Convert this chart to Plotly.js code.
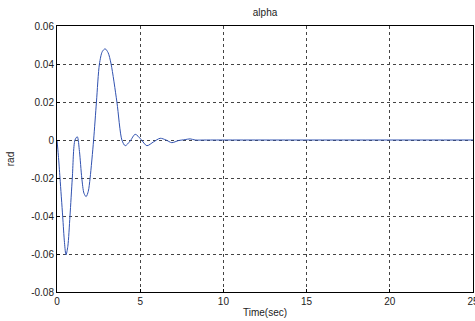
<!DOCTYPE html>
<html><head><meta charset="utf-8">
<script src="https://cdn.plot.ly/plotly-3.0.1.min.js"></script>
<style>html,body{margin:0;padding:0;background:#fff}#c{width:475px;height:321px}</style>
</head><body><div id="c"></div>
<script>
const timeSec = [0, 0.08, 0.18, 0.34, 0.45, 0.54, 0.65, 0.78, 0.92, 1.08, 1.22, 1.35, 1.49, 1.62, 1.75, 1.88, 1.99, 2.2, 2.37, 2.55, 2.72, 2.89, 3.07, 3.25, 3.6, 3.9, 4.1, 4.4, 4.7, 5.05, 5.4, 5.8, 6.2, 6.55, 6.9, 7.3, 7.7, 8.0, 8.3, 9, 25];
const alphaRad = [0, -0.008, -0.02, -0.04, -0.054, -0.0605, -0.056, -0.04, -0.02, 0, 0.0017, -0.006, -0.02, -0.028, -0.0298, -0.027, -0.02, 0, 0.02, 0.04, 0.0465, 0.048, 0.046, 0.04, 0.02, 0, -0.003, -0.0005, 0.003, 0.0003, -0.003, -0.001, 0.0009, 0.0, -0.0014, -0.0003, 0.0002, 0.0006, 0, 0, 0];
const xTicks = [0, 5, 10, 15, 20, 25];
const yTicks = [-0.08, -0.06, -0.04, -0.02, 0, 0.02, 0.04, 0.06];
const yTickText = ['-0.08', '-0.06', '-0.04', '-0.02', '0', '0.02', '0.04', '0.06'];

const font = {family: 'Liberation Sans, Arial, sans-serif', size: 10, color: '#222'};
const axisCommon = {
  showline: true, linecolor: '#000', linewidth: 1, mirror: true,
  showgrid: true, gridcolor: '#444', gridwidth: 1, griddash: '3px,3px',
  zeroline: false, ticks: 'inside', ticklen: 3, tickcolor: '#000',
  tickfont: font, ticklabeloverflow: 'allow'
};
Plotly.newPlot('c', [{
  x: timeSec, y: alphaRad, type: 'scatter', mode: 'lines',
  line: {color: '#3152b0', width: 1, shape: 'spline', smoothing: 0.8}
}], {
  width: 475, height: 321,
  margin: {l: 57, r: 2, t: 26, b: 29},
  paper_bgcolor: '#fff', plot_bgcolor: '#fff',
  showlegend: false,
  title: {text: 'alpha', font: font, x: 0.558, xanchor: 'center', y: 0.96, yanchor: 'middle'},
  xaxis: Object.assign({}, axisCommon, {range: [0, 25], tickvals: xTicks, ticktext: xTicks.map(String),
    title: {text: 'Time(sec)', font: font, standoff: 2}}),
  yaxis: Object.assign({}, axisCommon, {range: [-0.08, 0.06], tickvals: yTicks, ticktext: yTickText,
    title: {text: 'rad', font: font, standoff: 14}})
}, {staticPlot: true});
</script></body></html>
